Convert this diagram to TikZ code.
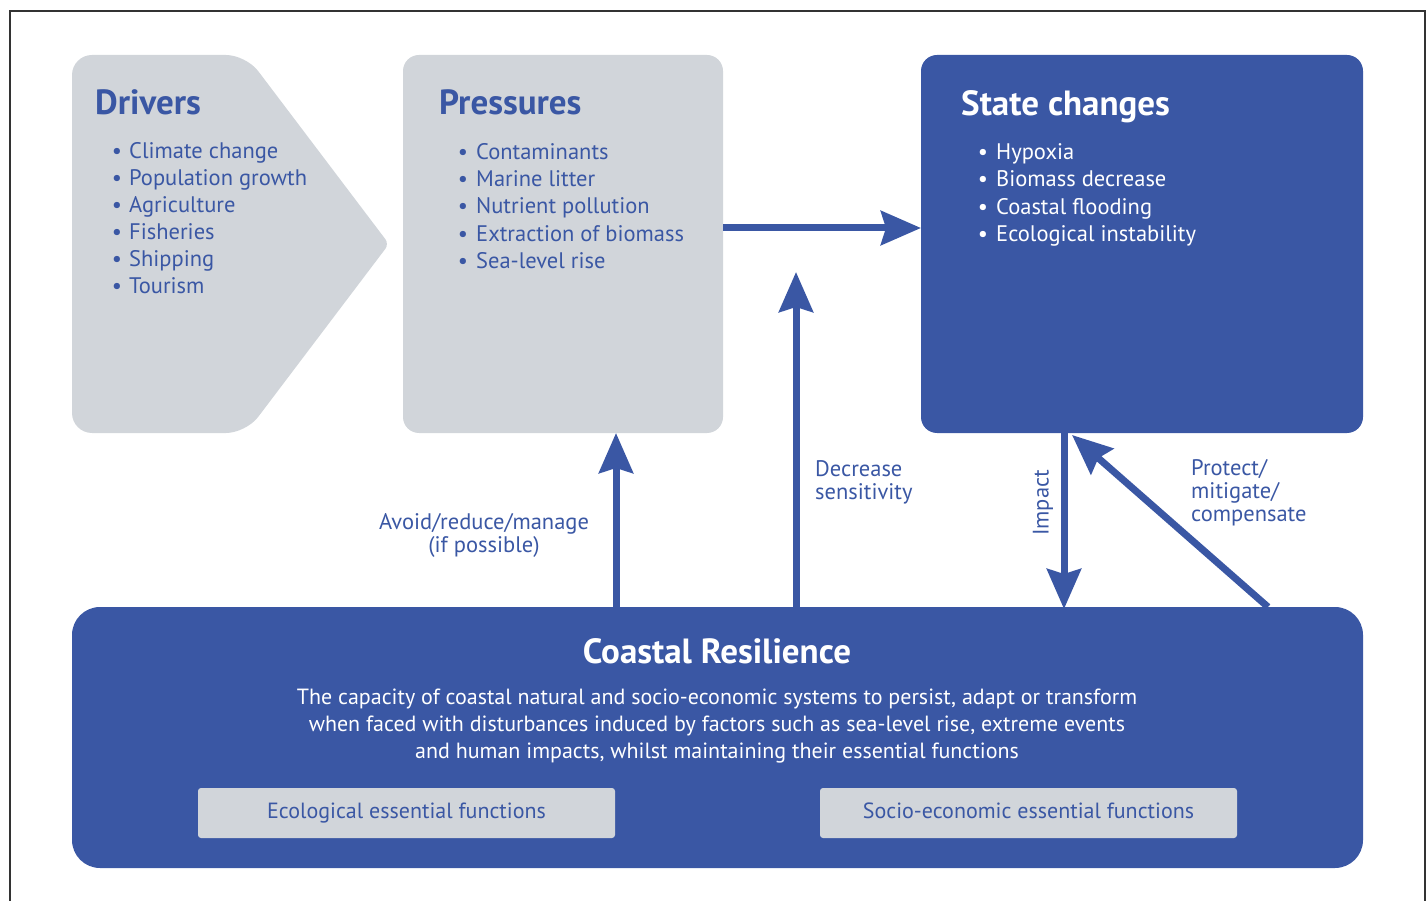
\documentclass[tikz,border=0pt]{standalone}
\usepackage{fontspec}
\setmainfont{PT Sans}
\usetikzlibrary{arrows.meta}
\definecolor{cblue}{HTML}{3A57A4}
\definecolor{cgray}{HTML}{D1D5DA}
\begin{document}
\begin{tikzpicture}[x=1pt,y=-1pt,
  box/.style={rounded corners=16pt, minimum width=#1, inner sep=0pt, outer sep=0pt},
  title/.style={font=\fontsize{35}{40}\selectfont\bfseries, anchor=base west, inner sep=0pt},
  item/.style={font=\fontsize{22.5}{27}\selectfont, anchor=base west, inner sep=0pt},
  lbl/.style={font=\fontsize{22.5}{23}\selectfont, text=cblue, align=left, inner sep=0pt},
  inner/.style={fill=cgray, rounded corners=3pt, minimum width=417pt, minimum height=50pt, font=\fontsize{22}{26}\selectfont, text=cblue, text height=15pt, text depth=5pt},
  arr/.style={draw=cblue, line width=7pt, -{Stealth[length=40pt,width=34pt,inset=5pt]}}
]
\useasboundingbox (0,0) rectangle (1428,901);
\draw[line width=1.5pt, black!80] (10,11) rectangle (1425,920);

% Drivers shape
\fill[cgray, rounded corners=20pt] (72,244) -- (72,55) -- (246,55) [rounded corners=6pt] -- (389,244) [rounded corners=20pt] -- (246,433) -- (72,433) -- cycle;
\coordinate (drivers) at (230,244);

\node[box=320pt, minimum height=378pt, fill=cgray] (pressures) at (563,244) {};
\node[box=442pt, minimum height=378pt, fill=cblue] (state) at (1142,244) {};
\node[box=1291pt, minimum height=261pt, fill=cblue, rounded corners=28pt] (res) at (717.5,737.5) {};

% Drivers text
\node[title, text=cblue] (dt) at (95,115) {Drivers};
\foreach \t [count=\i] in {Climate change, Population growth, Agriculture, Fisheries, Shipping, Tourism}{
  \node[item, text=cblue] (d\i) at (129,158.5+27*\i-27) {\t};
  \node[item, text=cblue, anchor=base] (db\i) at (117,158.5+27*\i-27) {•};
}
% Pressures text
\node[title, text=cblue] (pt) at (439,115) {Pressures};
\foreach \t [count=\i] in {Contaminants, Marine litter, Nutrient pollution, Extraction of biomass, Sea-level rise}{
  \node[item, text=cblue] (p\i) at (476,159.5+27.2*\i-27.2) {\t};
  \node[item, text=cblue, anchor=base] (pb\i) at (463,159.5+27.2*\i-27.2) {•};
}
% State text
\node[title, text=white] (st) at (961,116) {State changes};
\foreach \t [count=\i] in {Hypoxia, Biomass decrease, Coastal flooding, Ecological instability}{
  \node[item, text=white] (s\i) at (996,159.5+27.3*\i-27.3) {\t};
  \node[item, text=white, anchor=base] (sb\i) at (983,159.5+27.3*\i-27.3) {•};
}

% Resilience
\node[font=\fontsize{35}{40}\selectfont\bfseries, text=white, anchor=base, inner sep=0pt] (rt) at (717,663) {Coastal Resilience};
\node[font=\fontsize{22}{27}\selectfont, text=white, align=center, anchor=north, inner sep=0pt] (rp) at (717,689) {The capacity of coastal natural and socio-economic systems to persist, adapt or transform\\when faced with disturbances induced by factors such as sea-level rise, extreme events\\and human impacts, whilst maintaining their essential functions};
\node[inner] (eco) at (406.5,813) {Ecological essential functions};
\node[inner] (soc) at (1028.5,813) {Socio-economic essential functions};

% arrows
\coordinate (ay) at (0,228);
\draw[arr] (pressures.east |- ay) -- (state.west |- ay);
\coordinate (a1) at (616,0);
\draw[arr] (res.north -| a1) -- (pressures.south -| a1);
\coordinate (a2) at (796,0);
\coordinate (a2t) at (796,272);
\draw[arr] (res.north -| a2) -- (a2t);
\coordinate (a3) at (1064,0);
\draw[arr] (state.south -| a3) -- ([yshift=-2pt]res.north -| a3);
\coordinate (a4s) at (1268,607);
\coordinate (a4t) at (1072,435);
\draw[arr] (a4s) -- (a4t);

% labels
\node[lbl, align=center] (l1) at (484,535) {Avoid/reduce/manage\\(if possible)};
\node[lbl, anchor=west] (l2) at (815,482) {Decrease\\sensitivity};
\node[lbl, anchor=west] (l3) at (1191,493) {Protect/\\mitigate/\\compensate};
\node[lbl, rotate=90] (l4) at (1043,503) {Impact};
\end{tikzpicture}
\end{document}
